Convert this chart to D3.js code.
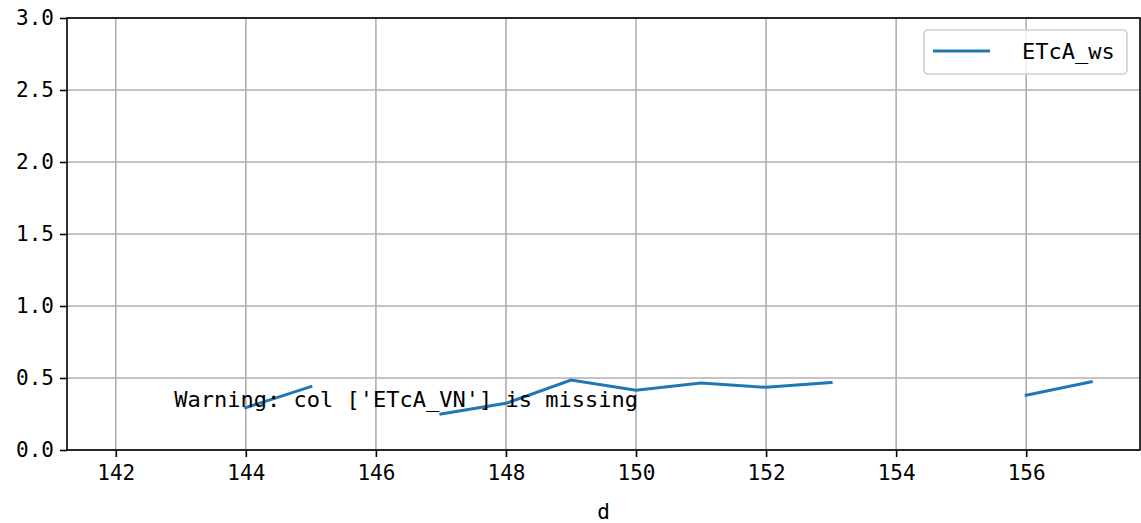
<!DOCTYPE html>
<html>
<head>
<meta charset="utf-8">
<title>ETcA_ws</title>
<script src="https://d3js.org/d3.v7.min.js"></script>
<style>
body { margin: 0; background: #fff; }
svg { display: block; }
text { font-family: "DejaVu Sans Mono", "Liberation Mono", monospace; fill: #000; }
.grid line { stroke: #b0b0b0; stroke-width: 1.6px; }
.axis path, .axis line { stroke: #000; stroke-width: 1.6px; }
.axis text { font-size: 21px; }
</style>
</head>
<body>
<svg width="1141" height="523"></svg>
<script>

// day of year, NaN where data is missing
var days = [142, 143, 144, 145, 146, 147, 148, 149, 150, 151, 152, 153, 154, 155, 156, 157];
var etcaWs = [null, null, 0.294, 0.44, null, 0.25, 0.324, 0.486, 0.415, 0.465, 0.435, 0.468, null, null, 0.38, 0.474];
var xTicks = [142, 144, 146, 148, 150, 152, 154, 156];
var yTicks = [0, 0.5, 1.0, 1.5, 2.0, 2.5, 3.0];
var seriesName = "ETcA_ws";
var warning = "Warning: col ['ETcA_VN'] is missing";

var svg = d3.select("svg"),
    margin = {top: 18, right: 1, bottom: 73, left: 67},
    width = +svg.attr("width") - margin.left - margin.right,
    height = +svg.attr("height") - margin.top - margin.bottom,
    g = svg.append("g").attr("transform", "translate(" + margin.left + "," + margin.top + ")");

var pad = (d3.max(days) - d3.min(days)) * 0.05;
var x = d3.scaleLinear()
    .domain([d3.min(days) - pad, d3.max(days) + pad])
    .range([0, width]);

var y = d3.scaleLinear()
    .domain([0, 3])
    .range([height, 0]);

// grid
g.append("g").attr("class", "grid")
  .selectAll("line").data(xTicks).enter().append("line")
    .attr("x1", function(d) { return x(d); })
    .attr("x2", function(d) { return x(d); })
    .attr("y1", 0).attr("y2", height);

g.append("g").attr("class", "grid")
  .selectAll("line").data(yTicks).enter().append("line")
    .attr("x1", 0).attr("x2", width)
    .attr("y1", function(d) { return y(d); })
    .attr("y2", function(d) { return y(d); });

// series
var data = days.map(function(d, i) { return {d: d, v: etcaWs[i]}; });
var line = d3.line()
    .defined(function(d) { return d.v != null; })
    .x(function(d) { return x(d.d); })
    .y(function(d) { return y(d.v); });

g.append("path")
  .datum(data)
  .attr("fill", "none")
  .attr("stroke", "#1f77b4")
  .attr("stroke-width", 3)
  .attr("stroke-linecap", "square")
  .attr("d", line);

// axes
g.append("g")
  .attr("class", "axis")
  .attr("transform", "translate(0," + height + ")")
  .call(d3.axisBottom(x).tickValues(xTicks).tickSize(7).tickPadding(8).tickFormat(d3.format("d")))
  .call(function(a) { a.select(".domain").remove(); });

g.append("g")
  .attr("class", "axis")
  .call(d3.axisLeft(y).tickValues(yTicks).tickSize(7).tickPadding(6).tickFormat(d3.format(".1f")))
  .call(function(a) { a.select(".domain").remove(); });

g.append("rect")
  .attr("width", width).attr("height", height)
  .attr("fill", "none").attr("stroke", "#000").attr("stroke-width", 1.6);

// x label
g.append("text")
  .attr("x", width / 2).attr("y", height + 69)
  .attr("text-anchor", "middle")
  .style("font-size", "21px")
  .text("d");

// warning text at axes fraction (0.1, 0.1)
g.append("text")
  .attr("x", width * 0.1).attr("y", height * 0.9)
  .style("font-size", "22px")
  .text(warning);

// legend
var lg = g.append("g").attr("transform", "translate(" + (width - 216) + ",12)");
lg.append("rect")
  .attr("width", 203).attr("height", 44).attr("rx", 4)
  .attr("fill", "#fff").attr("fill-opacity", 0.8)
  .attr("stroke", "#d0d0d0").attr("stroke-width", 1.6);
lg.append("line")
  .attr("x1", 9).attr("x2", 66).attr("y1", 21).attr("y2", 21)
  .attr("stroke", "#1f77b4").attr("stroke-width", 3);
lg.append("text")
  .attr("x", 98).attr("y", 29)
  .style("font-size", "22px")
  .text(seriesName);

</script>
</body>
</html>
